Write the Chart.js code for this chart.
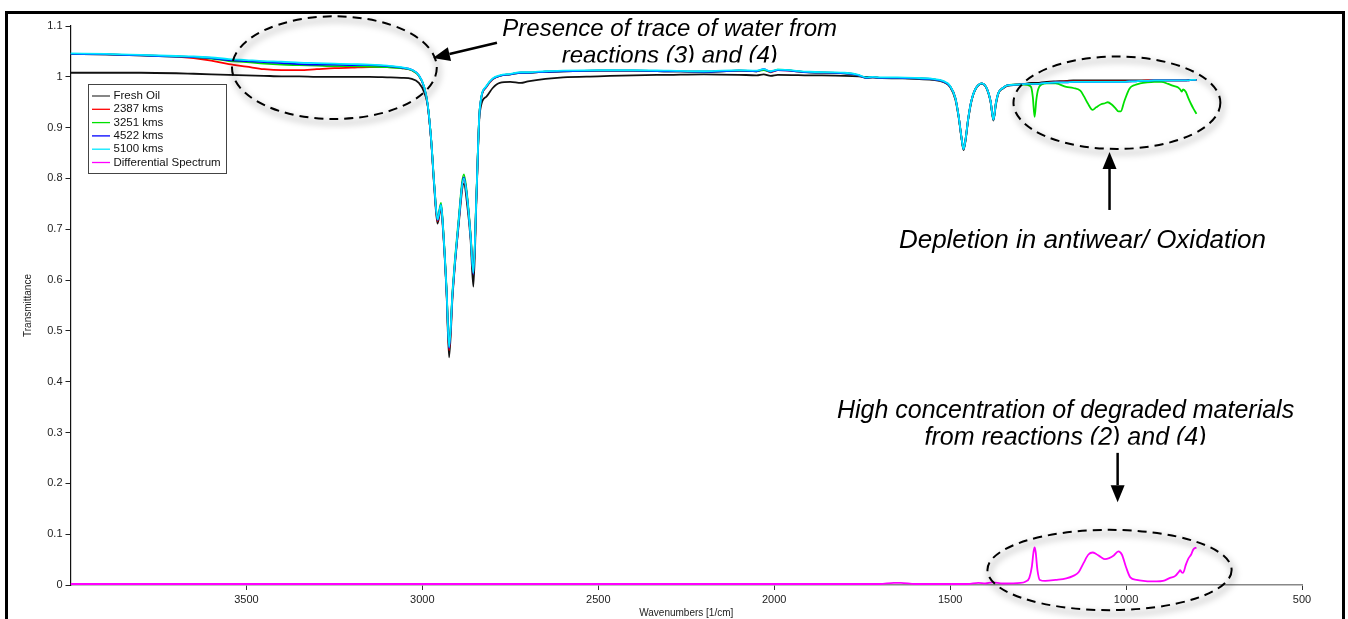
<!DOCTYPE html>
<html>
<head>
<meta charset="utf-8">
<script src="https://cdn.jsdelivr.net/npm/chart.js@4.4.1/dist/chart.umd.min.js"></script>
<style>
  html, body { margin: 0; padding: 0; background: #fff; }
  #wrap { position: relative; width: 1348px; height: 619px; }
</style>
</head>
<body>
<div id="wrap"><canvas id="spectrum" width="1348" height="619"></canvas></div>
<script>
// Shared wavenumber grid for the five transmittance spectra (1/cm, descending)
const wavenumbers = [
  4000, 3900, 3800, 3700, 3650, 3600, 3550, 3500, 3450, 3400,
  3350, 3300, 3250, 3200, 3150, 3100, 3060, 3030, 3010, 2995,
  2985, 2975, 2966, 2957, 2947, 2941, 2931, 2924, 2914, 2898,
  2882, 2872, 2863, 2855, 2846, 2837, 2818, 2800, 2780, 2750,
  2720, 2700, 2650, 2600, 2500, 2400, 2300, 2200, 2100, 2050,
  2030, 2010, 1990, 1900, 1800, 1760, 1740, 1720, 1700, 1650,
  1600, 1550, 1520, 1500, 1485, 1476, 1468, 1462, 1456, 1449,
  1440, 1429, 1410, 1395, 1385, 1377, 1370, 1363, 1350, 1338,
  1300, 1280, 1270, 1265, 1260, 1255, 1250, 1240, 1225, 1200,
  1170, 1150, 1130, 1120, 1109, 1095, 1085, 1071, 1060, 1052,
  1040, 1030, 1022, 1015, 1005, 990, 975, 960, 940, 920,
  900, 880, 865, 852, 846, 842, 838, 830, 823, 815, 809, 800
];

const freshOil = [
  1.008, 1.008, 1.008, 1.007, 1.006, 1.005, 1.004, 1.003, 1.002, 1.001,
  1.001, 1.000, 1.000, 1.000, 1.000, 0.999, 0.998, 0.996, 0.988, 0.970,
  0.945, 0.875, 0.780, 0.711, 0.742, 0.695, 0.570, 0.448, 0.570, 0.700,
  0.790, 0.745, 0.680, 0.587, 0.765, 0.928, 0.961, 0.978, 0.988, 0.990,
  0.988, 0.991, 0.996, 0.999, 1.001, 1.003, 1.004, 1.005, 1.004, 1.003,
  1.005, 1.002, 1.004, 1.003, 1.002, 1.001, 1.000, 1.000, 0.998, 0.997,
  0.996, 0.994, 0.990, 0.980, 0.955, 0.921, 0.880, 0.856, 0.875, 0.914,
  0.950, 0.974, 0.986, 0.975, 0.950, 0.914, 0.945, 0.967, 0.977, 0.982,
  0.985, 0.987, 0.988, 0.988, 0.988, 0.988, 0.988, 0.989, 0.990, 0.991,
  0.992, 0.993, 0.993, 0.993, 0.993, 0.993, 0.993, 0.993, 0.993, 0.993,
  0.993, 0.993, 0.993, 0.993, 0.993, 0.993, 0.993, 0.993, 0.993, 0.993,
  0.993, 0.993, 0.993, 0.993, 0.993, 0.993, 0.993, 0.993, 0.994, 0.994, 0.994, 0.994
];

const kms2387 = [
  1.045, 1.044, 1.042, 1.040, 1.037, 1.032, 1.025, 1.020, 1.015, 1.013,
  1.013, 1.015, 1.017, 1.018, 1.019, 1.019, 1.017, 1.013, 1.002, 0.980,
  0.945, 0.875, 0.785, 0.716, 0.745, 0.700, 0.575, 0.462, 0.575, 0.705,
  0.800, 0.757, 0.688, 0.612, 0.772, 0.935, 0.980, 0.995, 1.002, 1.005,
  1.008, 1.008, 1.010, 1.011, 1.012, 1.012, 1.011, 1.010, 1.012, 1.011,
  1.014, 1.009, 1.013, 1.009, 1.007, 1.003, 0.998, 0.999, 0.998, 0.998,
  0.997, 0.995, 0.991, 0.981, 0.958, 0.923, 0.882, 0.858, 0.878, 0.916,
  0.952, 0.975, 0.987, 0.976, 0.952, 0.916, 0.948, 0.968, 0.978, 0.983,
  0.985, 0.986, 0.986, 0.986, 0.986, 0.986, 0.986, 0.987, 0.988, 0.990,
  0.991, 0.991, 0.991, 0.991, 0.991, 0.991, 0.991, 0.991, 0.991, 0.991,
  0.991, 0.991, 0.991, 0.991, 0.991, 0.991, 0.992, 0.992, 0.993, 0.993,
  0.993, 0.993, 0.993, 0.993, 0.993, 0.993, 0.993, 0.993, 0.993, 0.994, 0.994, 0.994
];

const kms3251 = [
  1.045, 1.044, 1.042, 1.040, 1.039, 1.036, 1.031, 1.029, 1.026, 1.024,
  1.023, 1.022, 1.021, 1.021, 1.020, 1.019, 1.017, 1.013, 1.002, 0.980,
  0.946, 0.877, 0.787, 0.720, 0.752, 0.704, 0.580, 0.470, 0.582, 0.712,
  0.808, 0.762, 0.692, 0.615, 0.775, 0.936, 0.981, 0.996, 1.002, 1.005,
  1.008, 1.008, 1.010, 1.011, 1.012, 1.012, 1.011, 1.010, 1.012, 1.011,
  1.013, 1.010, 1.014, 1.009, 1.007, 1.003, 0.998, 0.999, 0.998, 0.998,
  0.997, 0.995, 0.991, 0.981, 0.958, 0.923, 0.882, 0.858, 0.878, 0.916,
  0.952, 0.975, 0.987, 0.976, 0.952, 0.916, 0.948, 0.968, 0.978, 0.983,
  0.985, 0.984, 0.980, 0.960, 0.921, 0.955, 0.975, 0.985, 0.987, 0.987,
  0.980, 0.978, 0.973, 0.962, 0.948, 0.935, 0.940, 0.946, 0.948, 0.950,
  0.945, 0.938, 0.932, 0.932, 0.952, 0.977, 0.984, 0.987, 0.989, 0.990,
  0.990, 0.986, 0.982, 0.979, 0.975, 0.971, 0.975, 0.970, 0.958, 0.946, 0.938, 0.927
];

const kms4522 = [
  1.045, 1.044, 1.042, 1.040, 1.039, 1.037, 1.033, 1.031, 1.029, 1.027,
  1.025, 1.024, 1.024, 1.023, 1.023, 1.021, 1.018, 1.014, 1.003, 0.980,
  0.946, 0.876, 0.785, 0.718, 0.748, 0.700, 0.576, 0.466, 0.577, 0.706,
  0.802, 0.758, 0.688, 0.612, 0.772, 0.935, 0.981, 0.996, 1.002, 1.005,
  1.008, 1.008, 1.010, 1.011, 1.012, 1.012, 1.011, 1.010, 1.012, 1.011,
  1.015, 1.010, 1.013, 1.009, 1.007, 1.003, 0.998, 0.999, 0.998, 0.998,
  0.997, 0.995, 0.991, 0.981, 0.958, 0.923, 0.882, 0.858, 0.878, 0.916,
  0.952, 0.975, 0.987, 0.976, 0.952, 0.916, 0.948, 0.968, 0.978, 0.983,
  0.985, 0.986, 0.986, 0.986, 0.986, 0.986, 0.986, 0.987, 0.988, 0.989,
  0.989, 0.990, 0.990, 0.990, 0.990, 0.990, 0.990, 0.990, 0.990, 0.990,
  0.990, 0.990, 0.990, 0.990, 0.990, 0.991, 0.991, 0.992, 0.992, 0.993,
  0.993, 0.993, 0.993, 0.993, 0.993, 0.993, 0.993, 0.993, 0.993, 0.994, 0.994, 0.994
];

const kms5100 = [
  1.046, 1.045, 1.043, 1.041, 1.040, 1.038, 1.035, 1.033, 1.031, 1.030,
  1.028, 1.027, 1.026, 1.025, 1.024, 1.022, 1.019, 1.014, 1.003, 0.981,
  0.947, 0.877, 0.786, 0.719, 0.748, 0.701, 0.577, 0.468, 0.578, 0.707,
  0.800, 0.758, 0.688, 0.614, 0.773, 0.936, 0.982, 0.997, 1.003, 1.006,
  1.009, 1.009, 1.011, 1.012, 1.013, 1.013, 1.012, 1.011, 1.013, 1.012,
  1.015, 1.011, 1.014, 1.010, 1.008, 1.004, 0.999, 1.000, 0.999, 0.999,
  0.998, 0.996, 0.992, 0.982, 0.958, 0.923, 0.882, 0.858, 0.878, 0.916,
  0.952, 0.975, 0.987, 0.976, 0.952, 0.916, 0.948, 0.968, 0.978, 0.983,
  0.985, 0.986, 0.986, 0.986, 0.986, 0.986, 0.986, 0.987, 0.988, 0.989,
  0.989, 0.990, 0.990, 0.990, 0.990, 0.990, 0.990, 0.990, 0.990, 0.990,
  0.990, 0.990, 0.990, 0.990, 0.990, 0.991, 0.991, 0.992, 0.992, 0.993,
  0.993, 0.993, 0.993, 0.993, 0.993, 0.993, 0.993, 0.993, 0.993, 0.994, 0.994, 0.994
];

// Differential spectrum has its own grid
const diffWavenumbers = [
  4000, 3000, 2000, 1700, 1660, 1640, 1600, 1450, 1420, 1400,
  1380, 1350, 1300, 1285, 1275, 1268, 1263, 1260, 1257, 1252,
  1245, 1230, 1200, 1170, 1150, 1135, 1121, 1107, 1095, 1085,
  1072, 1060, 1048, 1035, 1022, 1012, 1000, 988, 970, 951,
  930, 913, 895, 875, 860, 850, 846, 842, 838, 830,
  823, 815, 809, 800
];
const differential = [
  0.002, 0.002, 0.002, 0.002, 0.004, 0.004, 0.002, 0.002, 0.004, 0.003,
  0.005, 0.003, 0.004, 0.007, 0.014, 0.035, 0.065, 0.074, 0.065, 0.030,
  0.010, 0.008, 0.010, 0.013, 0.018, 0.025, 0.043, 0.060, 0.064, 0.061,
  0.055, 0.051, 0.053, 0.058, 0.066, 0.060, 0.035, 0.015, 0.010, 0.008,
  0.007, 0.007, 0.008, 0.014, 0.018, 0.026, 0.029, 0.025, 0.024, 0.040,
  0.052, 0.060, 0.070, 0.074
];

const seriesNames = ['Fresh Oil', '2387 kms', '3251 kms', '4522 kms', '5100 kms', 'Differential Spectrum'];
const seriesColors = ['#111111', '#ff0000', '#00e000', '#0000ff', '#00e8ff', '#ff00ff'];
const xTicks = [3500, 3000, 2500, 2000, 1500, 1000, 500];
const yTicks = [0, 0.1, 0.2, 0.3, 0.4, 0.5, 0.6, 0.7, 0.8, 0.9, 1, 1.1];

// Callouts, placed in data units (wavenumber, transmittance)
const notes = [
  { lines: ['Presence of trace of water from', 'reactions (3) and (4)'], x: 2297, y: 1.0925, size: 24, gap: 27, clipAt: 1.028 },
  { lines: ['Depletion in antiwear/ Oxidation'], x: 1124, y: 0.677, size: 26, gap: 0 },
  { lines: ['High concentration of degraded materials', 'from reactions (2) and (4)'], x: 1172, y: 0.3425, size: 25, gap: 27.5, clipAt: 0.276 }
];
const ellipses = [
  { x: 3250, y: 1.018, rx: 291, ry: 0.101 },
  { x: 1026, y: 0.949, rx: 294, ry: 0.091 },
  { x: 1047, y: 0.0295, rx: 347, ry: 0.079 }
];
const arrows = [
  { from: [2788, 1.067], to: [2970, 1.037] },
  { from: [1047, 0.738], to: [1047, 0.852] },
  { from: [1024, 0.260], to: [1024, 0.163] }
];

Chart.defaults.font.family = '"Liberation Sans", Arial, sans-serif';

function toPoints(xs, ys) {
  return xs.map((x, i) => ({ x: x, y: ys[i] }));
}

const spectra = [freshOil, kms2387, kms3251, kms4522, kms5100];
const datasets = spectra.map((values, i) => ({
  label: seriesNames[i],
  data: toPoints(wavenumbers, values),
  borderColor: seriesColors[i],
  borderWidth: 1.8,
  order: 6 - i
}));
datasets.push({
  label: seriesNames[5],
  data: toPoints(diffWavenumbers, differential),
  borderColor: seriesColors[5],
  borderWidth: 1.8,
  order: 0
});

function drawArrow(ctx, x1, y1, x2, y2) {
  const ang = Math.atan2(y2 - y1, x2 - x1);
  const len = 17, half = 7;
  const bx = x2 - len * Math.cos(ang), by = y2 - len * Math.sin(ang);
  ctx.beginPath();
  ctx.moveTo(x1, y1);
  ctx.lineTo(bx, by);
  ctx.lineWidth = 2.5;
  ctx.stroke();
  ctx.beginPath();
  ctx.moveTo(x2, y2);
  ctx.lineTo(bx + half * Math.sin(ang), by - half * Math.cos(ang));
  ctx.lineTo(bx - half * Math.sin(ang), by + half * Math.cos(ang));
  ctx.closePath();
  ctx.fill();
}

const overlay = {
  id: 'overlay',
  afterDraw(chart) {
    const { ctx, scales: { x, y }, chartArea } = chart;
    const px = v => x.getPixelForValue(v);
    const py = v => y.getPixelForValue(v);

    // Legend box
    const lx = chartArea.left + 17.5, ly = chartArea.top + 58;
    ctx.save();
    ctx.fillStyle = '#fff';
    ctx.fillRect(lx, ly, 138, 89);
    ctx.strokeStyle = '#444';
    ctx.lineWidth = 1;
    ctx.strokeRect(lx + 0.5, ly + 0.5, 138, 89);
    ctx.font = '11.5px "Liberation Sans", Arial, sans-serif';
    ctx.textBaseline = 'middle';
    seriesNames.forEach((name, i) => {
      const yy = ly + 12 + i * 13.3;
      ctx.strokeStyle = seriesColors[i] === '#111111' ? '#444' : seriesColors[i];
      ctx.lineWidth = 1.3;
      ctx.beginPath();
      ctx.moveTo(lx + 4, yy);
      ctx.lineTo(lx + 22, yy);
      ctx.stroke();
      ctx.fillStyle = '#111';
      ctx.fillText(name, lx + 25.5, yy);
    });
    ctx.restore();

    // Dashed ellipses with soft shadow
    ellipses.forEach(e => {
      const cx = px(e.x), cy = py(e.y);
      const rx = Math.abs(px(e.x + e.rx) - cx), ry = Math.abs(py(e.y + e.ry) - cy);
      ctx.save();
      ctx.filter = 'blur(3px)';
      ctx.strokeStyle = 'rgba(0,0,0,0.16)';
      ctx.lineWidth = 5;
      ctx.beginPath();
      ctx.ellipse(cx + 2, cy + 4, rx, ry, 0, 0, Math.PI * 2);
      ctx.stroke();
      ctx.restore();
      ctx.save();
      ctx.strokeStyle = '#000';
      ctx.lineWidth = 2;
      ctx.setLineDash([9, 6]);
      ctx.beginPath();
      ctx.ellipse(cx, cy, rx, ry, 0, 0, Math.PI * 2);
      ctx.stroke();
      ctx.restore();
    });

    // Arrows
    ctx.save();
    ctx.strokeStyle = '#000';
    ctx.fillStyle = '#000';
    arrows.forEach(a => drawArrow(ctx, px(a.from[0]), py(a.from[1]), px(a.to[0]), py(a.to[1])));
    ctx.restore();

    // Callout text
    ctx.save();
    ctx.fillStyle = '#000';
    ctx.textAlign = 'center';
    ctx.textBaseline = 'middle';
    notes.forEach(n => {
      ctx.save();
      ctx.font = 'italic ' + n.size + 'px "Liberation Sans", Arial, sans-serif';
      if (n.clipAt !== undefined) {
        ctx.beginPath();
        ctx.rect(0, 0, chart.width, py(n.clipAt));
        ctx.clip();
      }
      n.lines.forEach((line, i) => ctx.fillText(line, px(n.x), py(n.y) + i * n.gap));
      ctx.restore();
    });
    ctx.restore();

    // Outer frame
    ctx.save();
    ctx.strokeStyle = '#000';
    ctx.lineWidth = 3;
    ctx.strokeRect(6.5, 12.5, 1337, 700);
    ctx.restore();
  }
};

new Chart(document.getElementById('spectrum'), {
  type: 'line',
  data: { datasets: datasets },
  options: {
    responsive: false,
    animation: false,
    parsing: false,
    normalized: true,
    elements: {
      point: { radius: 0 },
      line: { fill: false, cubicInterpolationMode: 'monotone' }
    },
    layout: { padding: { left: 18, right: 46, top: 26, bottom: 0 } },
    plugins: { legend: { display: false }, tooltip: { enabled: false } },
    scales: {
      x: {
        type: 'linear',
        reverse: true,
        min: 500,
        max: 4000,
        afterBuildTicks: s => { s.ticks = xTicks.map(v => ({ value: v })); },
        afterFit: s => { s.height = 34; },
        ticks: { color: '#222', font: { size: 11 }, maxRotation: 0, autoSkip: false, padding: 3, callback: v => String(v) },
        grid: { drawOnChartArea: false, drawTicks: true, tickLength: 5, color: '#333' },
        border: { color: '#888', width: 1.5 },
        title: { display: true, text: 'Wavenumbers [1/cm]', color: '#222', font: { size: 10 }, padding: { top: 2, bottom: 0 } }
      },
      y: {
        min: 0,
        max: 1.1,
        afterBuildTicks: s => { s.ticks = yTicks.map(v => ({ value: v })); },
        afterFit: s => { s.width = 52.5; },
        ticks: {
          color: '#222',
          font: { size: 11 },
          padding: 3,
          callback: v => String(Math.round(v * 10) / 10)
        },
        grid: { drawOnChartArea: false, drawTicks: true, tickLength: 5, color: '#222' },
        border: { color: '#111', width: 1.2 },
        title: { display: true, text: 'Transmittance', color: '#222', font: { size: 10 }, padding: { top: 4, bottom: 4 } }
      }
    }
  },
  plugins: [overlay]
});
</script>
</body>
</html>
